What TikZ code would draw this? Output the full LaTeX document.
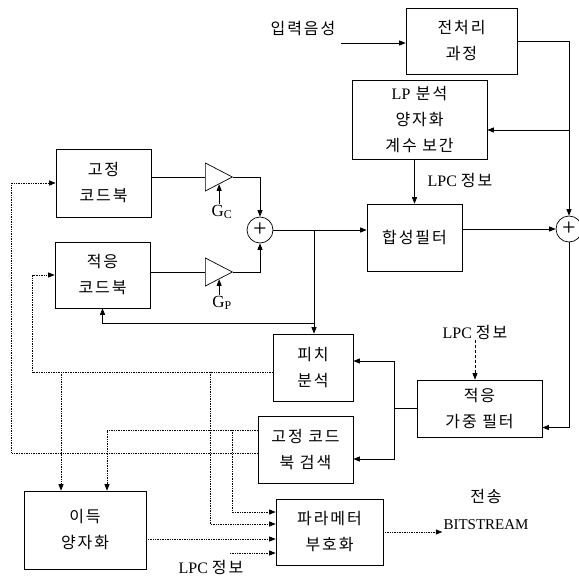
\documentclass[tikz,border=0pt]{standalone}
\usepackage{fontspec}
\setmainfont{Liberation Serif}
\newfontfamily\kr{Noto Sans CJK KR}[LetterSpace=12]
\usetikzlibrary{positioning,arrows.meta,shapes.geometric}

\begin{document}
\begin{tikzpicture}[
  x=1pt, y=-1pt,
  font=\fontsize{16}{25}\selectfont,
  >={Triangle[length=6.5pt,width=5pt]},
  blk/.style={draw=black, line width=0.7pt, align=center, inner sep=0pt, font=\kr\fontsize{16}{26}\selectfont},
  amp/.style={draw=black, line width=0.7pt, isosceles triangle, isosceles triangle stretches, minimum width=28pt, minimum height=27pt, inner sep=0pt},
  summ/.style={circle, draw=black, line width=0.7pt, minimum size=26pt, inner sep=0pt, font=\fontsize{24}{24}\selectfont},
  lbl/.style={inner sep=1pt, align=center},
  wire/.style={line width=0.7pt},
  sig/.style={->, line width=0.7pt},
  ctl/.style={->, line width=0.7pt, densely dotted}
]
  \useasboundingbox (0,0) rectangle (579,578);

  % blocks
  \node[blk, minimum width=111pt, minimum height=66pt] (pre) at (461.5,41) {전처리\\과정};
  \node[blk, minimum width=135pt, minimum height=79pt] (lpa) at (419.5,119.5) {{\rmfamily\fontsize{16}{25}\selectfont LP} 분석\\양자화\\계수 보간};
  \node[blk, minimum width=95pt, minimum height=68pt] (fcb) at (103.5,183) {고정\\코드북};
  \node[blk, minimum width=95pt, minimum height=66pt] (acb) at (102.5,275) {적응\\코드북};
  \node[blk, minimum width=95pt, minimum height=67pt] (syn) at (414.5,237.5) {합성필터};
  \node[blk, minimum width=80pt, minimum height=67pt] (pit) at (313,367.5) {피치\\분석};
  \node[blk, minimum width=95pt, minimum height=67pt] (fcs) at (305.5,449.5) {고정 코드\\북 검색};
  \node[blk, minimum width=125pt, minimum height=57pt] (awf) at (479.5,408.5) {적응\\가중 필터};
  \node[blk, minimum width=107pt, minimum height=66pt] (par) at (329.5,532) {파라메터\\부호화};
  \node[blk, minimum width=122pt, minimum height=78pt] (gq) at (85,530) {이득\\양자화};

  % gains and adders
  \node[amp, anchor=lower side] (gc) at (205,177) {};
  \node[amp, anchor=lower side] (gp) at (205,272) {};
  \node[lbl, font=\fontsize{17}{20}\selectfont] (gclab) at (222,212) {G\textsubscript{C}};
  \node[lbl, font=\fontsize{17}{20}\selectfont] (gplab) at (222,303) {G\textsubscript{P}};
  \node[summ] (sumL) at (260,230) {+};
  \node[summ] (sumR) at (569,229) {+};

  % labels
  \node[lbl, font=\kr\fontsize{16}{25}\selectfont] (inp) at (303,29) {입력음성};
  \node[lbl] (lpc1) at (460,180) {LPC {\kr\fontsize{16}{25}\selectfont 정보}};
  \node[lbl] (lpc2) at (475,332) {LPC {\kr\fontsize{16}{25}\selectfont 정보}};
  \node[lbl] (lpc3) at (211,567) {LPC {\kr\fontsize{16}{25}\selectfont 정보}};
  \node[lbl, font=\fontsize{15}{27}\selectfont] (tx) at (486,509) {{\kr\fontsize{16}{25}\selectfont 전송}\\BITSTREAM};

  % signal path
  \coordinate (inpx) at (341,43);
  \draw[sig] (inpx) -- (inpx -| pre.west);
  \draw[sig] (pre.east) -| (sumR.north);
  \coordinate (tap) at (569,130);
  \draw[sig] (tap) -- (tap -| lpa.east);
  \draw[sig] (lpa.south -| syn.north) -- (syn.north);
  \draw[wire] (gc.lower side -| fcb.east) -- (gc.lower side);
  \draw[wire] (gp.lower side -| acb.east) -- (gp.lower side);
  \draw[sig] (gc.apex) -| (sumL.north);
  \draw[sig] (gp.apex) -| (sumL.south);
  \draw[sig] (gc.right side |- gclab.north) -- (gc.right side);
  \draw[sig] (gp.right side |- gplab.north) -- (gp.right side);
  \draw[sig] (sumL.east) -- (sumL.east -| syn.west);
  \draw[sig] (syn.east |- sumR.west) -- (sumR.west);
  \coordinate (awfin) at ([yshift=-19pt]awf.east);
  \draw[sig] (sumR.south) |- (awfin);
  \coordinate (br) at (314,230);
  \draw[sig] (br) -- (br |- pit.north);
  \coordinate (br2) at (314,323);
  \draw[sig] (br2) -| (acb.south);
  \coordinate (fb) at (394,408.5);
  \draw[wire] (awf.west) -- (fb);
  \draw[sig] (fb) |- ([yshift=6.5pt]pit.east);
  \draw[sig] (fb) |- ([yshift=-9.5pt]fcs.east);
  \draw[sig, densely dashed] (lpc2.south) -- (lpc2.south |- awf.north);

  % parameter lines
  \coordinate (pw) at ([yshift=-4.5pt]pit.west);
  \draw[ctl] (pw) -| ([xshift=-22pt]acb.west) -- (acb.west);
  \draw[ctl] ([yshift=-3.5pt]fcs.west) -| ([xshift=-44pt]fcb.west) -- (fcb.west);
  \draw[ctl] ([yshift=19.5pt]fcs.west) -| ([xshift=22pt]gq.north);
  \draw[ctl] ([xshift=-24pt]gq.north |- pw) -- ([xshift=-24pt]gq.north);
  \coordinate (t1) at (210,372);
  \draw[ctl] (t1) |- ([yshift=8pt]par.west);
  \coordinate (t2) at (232,430);
  \draw[ctl] (t2) |- ([yshift=20pt]par.west);
  \draw[ctl] ([yshift=-7pt]par.west -| gq.east) -- ([yshift=-7pt]par.west);
  \coordinate (lpcin) at (230,553);
  \draw[ctl] (lpcin) -- (lpcin -| par.west);
  \draw[ctl] (par.east) -- (par.east -| tx.west);
\end{tikzpicture}
\end{document}
